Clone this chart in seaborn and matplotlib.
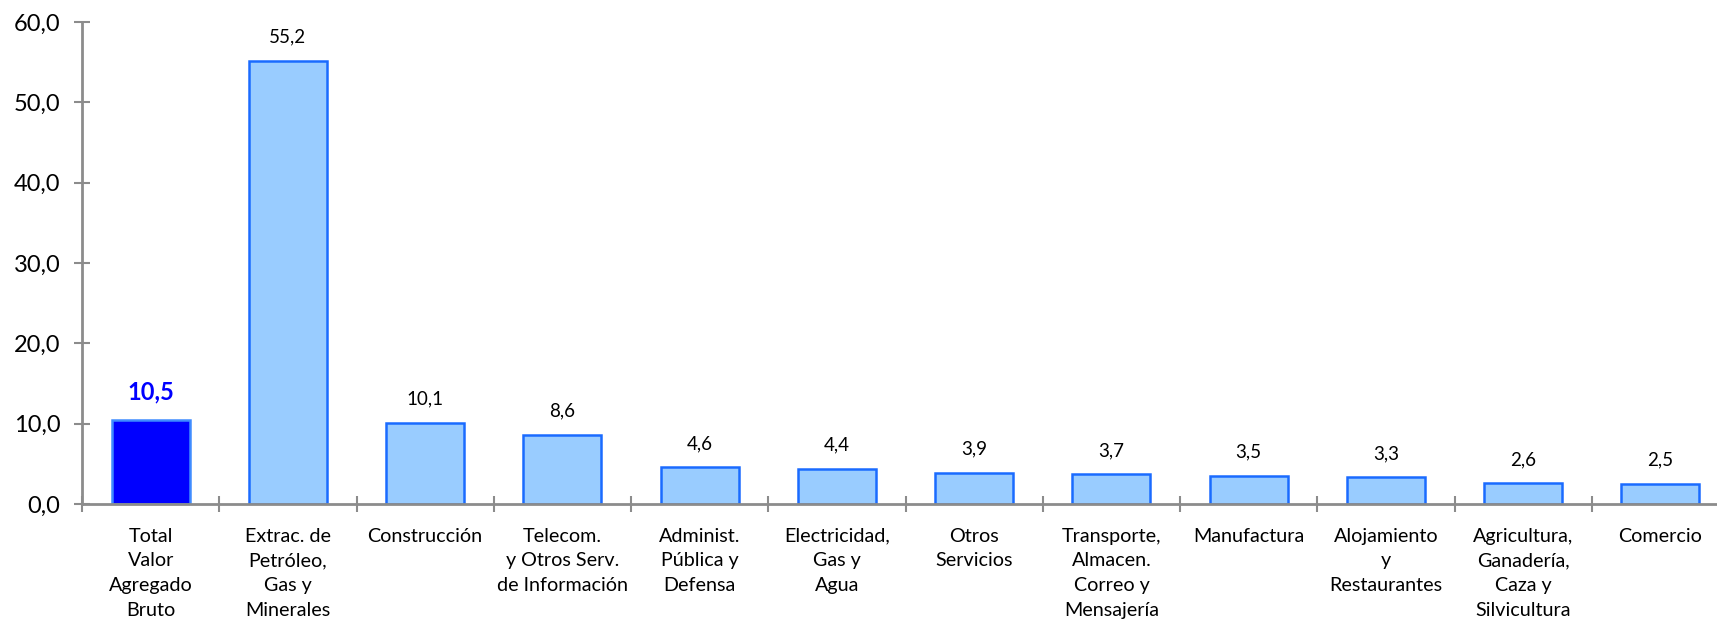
import numpy as np
import matplotlib
matplotlib.use("Agg")
import matplotlib.pyplot as plt
import seaborn as sns
from matplotlib.ticker import FuncFormatter

categories = [
    "Total\nValor\nAgregado\nBruto",
    "Extrac. de\nPetróleo,\nGas y\nMinerales",
    "Construcción",
    "Telecom.\ny Otros Serv.\nde Información",
    "Administ.\nPública y\nDefensa",
    "Electricidad,\nGas y\nAgua",
    "Otros\nServicios",
    "Transporte,\nAlmacen.\nCorreo y\nMensajería",
    "Manufactura",
    "Alojamiento\ny\nRestaurantes",
    "Agricultura,\nGanadería,\nCaza y\nSilvicultura",
    "Comercio",
]
values = [10.5, 55.2, 10.1, 8.6, 4.6, 4.4, 3.9, 3.7, 3.5, 3.3, 2.6, 2.5]
yticks = [0, 10, 20, 30, 40, 50, 60]

sns.set_theme(style="white")
plt.rcParams['font.family'] = ['Lato', 'DejaVu Sans']

fig = plt.figure(figsize=(17.17, 6.27), dpi=100)
W, H = 1717, 627
left, right, y0, y60 = 82, 1729, 504, 22
ax = fig.add_axes([left / W, (H - y0) / H, (right - left) / W, (y0 - y60) / H])

colors = ["#0000FF"] + ["#99CCFF"] * (len(values) - 1)
ids = list(range(len(values)))
sns.barplot(x=ids, y=values, hue=ids, palette=colors, legend=False,
            width=0.57, ax=ax, saturation=1)
for i, p in enumerate(ax.patches):
    p.set_edgecolor("#3F8CFF" if i == 0 else "#1A6BFF")
    p.set_linewidth(1.8)

ax.set_xlim(-0.5, len(values) - 0.5)
ax.set_ylim(0, 60)
ax.set_yticks(yticks)
ax.yaxis.set_major_formatter(FuncFormatter(lambda v, _: f"{v:.1f}".replace(".", ",")))
ax.set_xticks(ids)
ax.set_xticklabels(categories, fontsize=14.2, linespacing=1.55, color="black", va="top")
ax.set_xticks(np.arange(-0.5, len(values), 1), minor=True)
ax.tick_params(axis="x", which="major", length=0, pad=17)
ax.tick_params(axis="x", which="minor", length=11, width=1.5, direction="inout", color="#8C8C8C", bottom=True)
ax.tick_params(axis="y", which="major", length=11, width=1.5, direction="inout", color="#8C8C8C",
               labelsize=17, pad=10, left=True, labelcolor="black")

for s in ["top", "right"]:
    ax.spines[s].set_visible(False)
for s in ["left", "bottom"]:
    ax.spines[s].set_color("#8C8C8C")
    ax.spines[s].set_linewidth(2)

for i, v in enumerate(values):
    txt = f"{v:.1f}".replace(".", ",")
    if i == 0:
        ax.annotate(txt, (i, v), xytext=(0, 20), textcoords="offset points",
                    ha="center", va="center", fontsize=17, fontweight="bold", color="#0000FF")
    else:
        ax.annotate(txt, (i, v), xytext=(0, 17), textcoords="offset points",
                    ha="center", va="center", fontsize=13.5, color="black")

fig.savefig("out.png", dpi=100)
